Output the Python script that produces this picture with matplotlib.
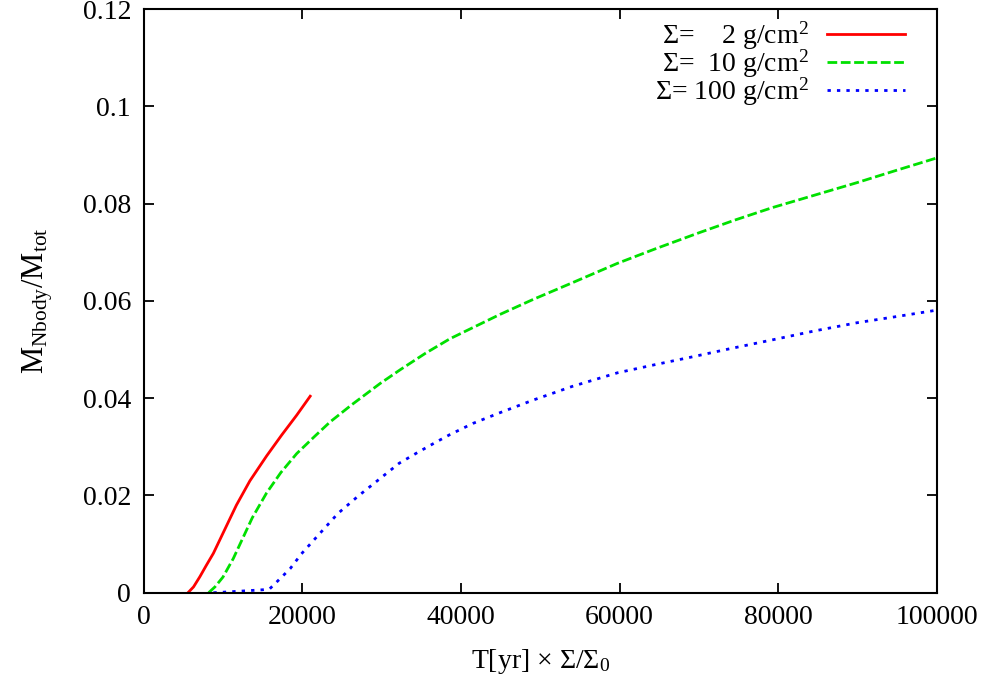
import numpy as np
import matplotlib
matplotlib.use('Agg')
import matplotlib.pyplot as plt

plt.rcParams['font.family'] = ['Liberation Serif', 'DejaVu Serif']
plt.rcParams['mathtext.fontset'] = 'custom'
plt.rcParams['mathtext.rm'] = 'Liberation Serif'
plt.rcParams['mathtext.it'] = 'Liberation Serif:italic'

# Sigma = 2 g/cm^2
x_2 = [5600, 6300, 7100, 7900, 8800, 10000, 11700, 13400, 15500, 17400, 19300, 21000]
y_2 = [0, 0.0012, 0.0033, 0.0056, 0.0081, 0.0122, 0.0180, 0.0230, 0.0281, 0.0324,
       0.0365, 0.0404]

# Sigma = 10 g/cm^2
x_10 = [8200, 9000, 10000, 11300, 12500, 13700, 15500, 17300, 19300, 21600,
        23500, 26200, 29800, 32400, 35500, 38600, 44900, 49100, 54000, 59700,
        64500, 70000, 74500, 79300, 84500, 89900, 95000, 100000]
y_10 = [0, 0.0012, 0.0032, 0.0070, 0.0112, 0.0154, 0.0205, 0.0247, 0.0286, 0.0322,
        0.0351, 0.0386, 0.0430, 0.0459, 0.0492, 0.0522, 0.0572, 0.0603, 0.0637, 0.0677,
        0.0707, 0.0740, 0.0766, 0.0792, 0.0817, 0.0843, 0.0869, 0.0894]

# Sigma = 100 g/cm^2
x_100 = [8800, 11000, 13000, 15000, 15900, 17400, 18500, 19900, 22000, 24500,
         27000, 29600, 32200, 34400, 36900, 38600, 41500, 44900, 49100, 54000,
         59700, 64500, 68900, 74000, 79300, 84500, 89900, 95000, 100000]
y_100 = [0, 0.0002, 0.0004, 0.0006, 0.0008, 0.0032, 0.0050, 0.0080, 0.0118, 0.0163,
         0.0198, 0.0232, 0.0266, 0.0287, 0.0310, 0.0325, 0.0348, 0.0370, 0.0396, 0.0424,
         0.0452, 0.0469, 0.0484, 0.0502, 0.0520, 0.0538, 0.0555, 0.0568, 0.0581]

labels = [r'$\Sigma$=    2 g/cm$^2$', r'$\Sigma$=  10 g/cm$^2$', r'$\Sigma$= 100 g/cm$^2$']
xticks = [0, 20000, 40000, 60000, 80000, 100000]
yticks = [0, 0.02, 0.04, 0.06, 0.08, 0.1, 0.12]
ytick_labels = ['0', '0.02', '0.04', '0.06', '0.08', '0.1', '0.12']

fig = plt.figure(figsize=(9.84, 6.78), dpi=100)
ax = fig.add_axes([0.1459, 0.1258, 0.8064, 0.8609])

ax.plot(x_2, y_2, color='#ff0000', lw=2, label=labels[0])
ax.plot(x_10, y_10, color='#00e000', lw=2, dashes=(3.5, 1.3), label=labels[1])
ax.plot(x_100, y_100, color='#0000ff', lw=2, dashes=(1.2, 2.2), label=labels[2])

ax.set_xlim(0, 100000)
ax.set_ylim(0, 0.12)
ax.set_xticks(xticks)
ax.set_xticklabels([str(t) for t in xticks])
ax.set_yticks(yticks)
ax.set_yticklabels(ytick_labels)
ax.tick_params(direction='in', top=True, right=True, length=7, width=1.3,
               labelsize=20, pad=9)
for s in ax.spines.values():
    s.set_linewidth(1.5)

ax.set_xlabel(r'T[yr] $\times$ $\Sigma$/$\Sigma_0$', fontsize=20, labelpad=12)
ax.set_ylabel(r'M$_{\rm Nbody}$/M$_{\rm tot}$', fontsize=22, labelpad=20)

ax.legend(loc='upper right', frameon=False, markerfirst=False, fontsize=20,
          handlelength=2.8, handletextpad=0.65, labelspacing=-0.16,
          borderaxespad=0, borderpad=0, bbox_to_anchor=(0.9595, 0.982))

fig.savefig('out.png', dpi=100)
